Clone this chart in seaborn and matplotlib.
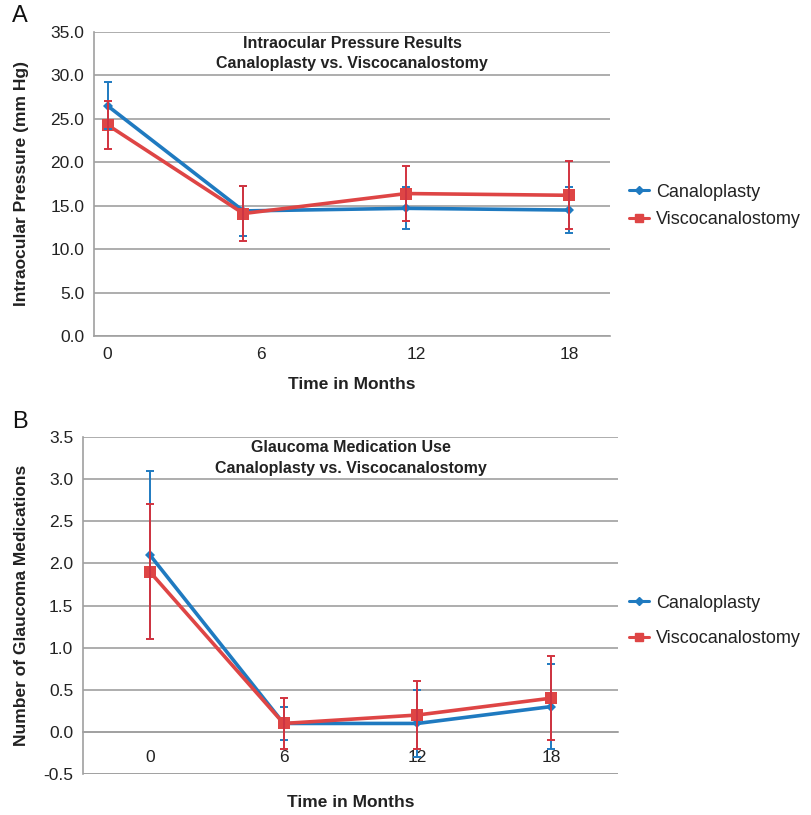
import numpy as np
import pandas as pd
import matplotlib
matplotlib.use("Agg")
import matplotlib.pyplot as plt
from matplotlib.lines import Line2D
from matplotlib.ticker import FormatStrFormatter, FixedLocator
import seaborn as sns

# ---------------- data ----------------
groups = ["Canaloplasty", "Viscocanalostomy"]
month_labels = ["0", "6", "12", "18"]

# Panel A: intraocular pressure (plotted at the measured x positions)
iop_x = [0.5, 5.5, 11.5, 17.5]
iop_canal = [26.5, 14.4, 14.7, 14.5]
iop_canal_err = [2.7, 2.9, 2.4, 2.6]
iop_visco = [24.3, 14.1, 16.4, 16.2]
iop_visco_err = [2.8, 3.2, 3.2, 3.9]

# Panel B: glaucoma medications (category axis)
med_x = [0, 1, 2, 3]
med_canal = [2.1, 0.1, 0.1, 0.3]
med_canal_err = [1.0, 0.2, 0.4, 0.5]
med_visco = [1.9, 0.1, 0.2, 0.4]
med_visco_err = [0.8, 0.3, 0.4, 0.5]

BLUE = "#1f7ac0"
RED = "#de4545"
RED_ERR = "#d2333f"
GRID = "#a0a0a0"

sns.set_theme(style="white")
plt.rcParams["font.family"] = ["Liberation Sans", "DejaVu Sans"]

fig = plt.figure(figsize=(8.12, 8.15), dpi=100)
W, H = 812, 815


def axes_px(l, t, r, b):
    return fig.add_axes([l / W, 1 - b / H, (r - l) / W, (b - t) / H])


def style_axes(ax):
    for s in ["top", "right"]:
        ax.spines[s].set_visible(False)
    for s in ["left", "bottom"]:
        ax.spines[s].set_color(GRID)
        ax.spines[s].set_linewidth(1.2)
    ax.yaxis.grid(True, color=GRID, linewidth=1.2)
    ax.xaxis.grid(False)
    ax.set_axisbelow(True)
    ax.tick_params(axis="y", which="major", direction="out", length=4, width=1,
                   color=GRID, labelsize=12.5, labelcolor="#222222", pad=3)


# ---------------- Panel A ----------------
axA = axes_px(94, 32, 610, 336)
dfA = pd.DataFrame({
    "x": iop_x * 2,
    "y": iop_canal + iop_visco,
    "group": [groups[0]] * 4 + [groups[1]] * 4,
})
sns.lineplot(data=dfA, x="x", y="y", hue="group", style="group",
             markers={groups[0]: "D", groups[1]: "s"}, dashes=False,
             palette={groups[0]: BLUE, groups[1]: RED}, linewidth=2.6,
             markersize=6, markeredgewidth=0, ax=axA, legend=False)
axA.lines[0].set_markersize(5)
axA.lines[1].set_markersize(8)
axA.errorbar(iop_x, iop_canal, yerr=iop_canal_err, fmt="none", ecolor=BLUE,
             elinewidth=1.4, capsize=3, capthick=1.4, zorder=2.5)
axA.errorbar(iop_x, iop_visco, yerr=iop_visco_err, fmt="none", ecolor=RED_ERR,
             elinewidth=1.4, capsize=3, capthick=1.4, zorder=2.6)
axA.set_xlim(0, 19)
axA.set_ylim(0, 35)
style_axes(axA)
axA.set_yticks(np.arange(0, 35.1, 5))
axA.yaxis.set_major_formatter(FormatStrFormatter("%.1f"))
axA.set_xticks([0, 6, 12, 18])
axA.set_xticklabels([])
axA.tick_params(axis="x", which="major", direction="out", length=3, width=1,
                color="#cccccc")
axA.xaxis.set_minor_locator(FixedLocator([0.5, 6.15, 11.85, 17.5]))
axA.set_xticklabels(month_labels, minor=True)
axA.tick_params(axis="x", which="minor", length=0, labelsize=12.5,
                labelcolor="#222222", pad=8)
axA.set_xlabel("Time in Months", fontsize=12.5, fontweight="bold", color="#222222")
axA.xaxis.set_label_coords(0.5, -0.135)
axA.set_ylabel("Intraocular Pressure (mm Hg)", fontsize=12.5, fontweight="bold",
               color="#222222")
axA.yaxis.set_label_coords(-0.125, 0.5)
axA.text(0.5, 0.988, "Intraocular Pressure Results\nCanaloplasty vs. Viscocanalostomy",
         transform=axA.transAxes, ha="center", va="top", fontsize=11.5,
         fontweight="bold", color="#222222", linespacing=1.45)

# ---------------- Panel B ----------------
axB = axes_px(83, 437, 618, 774)
dfB = pd.DataFrame({
    "x": med_x * 2,
    "y": med_canal + med_visco,
    "group": [groups[0]] * 4 + [groups[1]] * 4,
})
sns.lineplot(data=dfB, x="x", y="y", hue="group", style="group",
             markers={groups[0]: "D", groups[1]: "s"}, dashes=False,
             palette={groups[0]: BLUE, groups[1]: RED}, linewidth=2.6,
             markersize=6, markeredgewidth=0, ax=axB, legend=False)
axB.lines[0].set_markersize(5)
axB.lines[1].set_markersize(8)
axB.errorbar(med_x, med_canal, yerr=med_canal_err, fmt="none", ecolor=BLUE,
             elinewidth=1.4, capsize=3, capthick=1.4, zorder=2.5)
axB.errorbar(med_x, med_visco, yerr=med_visco_err, fmt="none", ecolor=RED_ERR,
             elinewidth=1.4, capsize=3, capthick=1.4, zorder=2.6)
axB.set_xlim(-0.5, 3.5)
axB.set_ylim(-0.5, 3.5)
style_axes(axB)
axB.set_yticks(np.arange(-0.5, 3.51, 0.5))
axB.yaxis.set_major_formatter(FormatStrFormatter("%.1f"))
axB.spines["bottom"].set_position(("data", 0))
axB.axhline(-0.5, color=GRID, linewidth=1.2, zorder=0.5)
axB.set_xticks(med_x)
axB.set_xticklabels(month_labels)
axB.tick_params(axis="x", which="major", length=0, labelsize=12.5,
                labelcolor="#222222", pad=13)
axB.xaxis.set_minor_locator(FixedLocator([0.5, 1.5, 2.5, 3.5]))
axB.tick_params(axis="x", which="minor", direction="in", length=4, width=1,
                color="#bbbbbb")
axB.set_xlabel("Time in Months", fontsize=12.5, fontweight="bold", color="#222222")
axB.xaxis.set_label_coords(0.5, -0.062)
axB.set_ylabel("Number of Glaucoma Medications", fontsize=12.5, fontweight="bold",
               color="#222222")
axB.yaxis.set_label_coords(-0.1, 0.5)
axB.text(0.5, 0.99, "Glaucoma Medication Use\nCanaloplasty vs. Viscocanalostomy",
         transform=axB.transAxes, ha="center", va="top", fontsize=11.5,
         fontweight="bold", color="#222222", linespacing=1.5)

# ---------------- legends ----------------
handles = [
    Line2D([], [], color=BLUE, marker="D", markersize=4, linewidth=2.2),
    Line2D([], [], color=RED, marker="s", markersize=6, linewidth=2.2),
]
for ycen, spacing in ((206, 0.6), (621, 1.05)):
    fig.legend(handles, groups, loc="center left",
               bbox_to_anchor=(622 / W, 1 - ycen / H), frameon=False,
               fontsize=13, handlelength=1.1, handletextpad=0.4,
               labelspacing=spacing, borderaxespad=0, labelcolor="#222222")

# panel letters
fig.text(12 / W, 1 - 16 / H, "A", fontsize=17, va="center", ha="left", color="#111111")
fig.text(12 / W, 1 - 422 / H, "B", fontsize=17, va="center", ha="left", color="#111111")

fig.savefig("out.png", dpi=100)
